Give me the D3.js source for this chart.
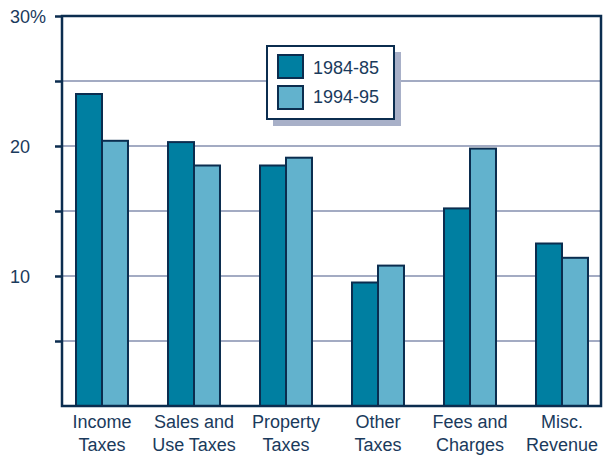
<!DOCTYPE html>
<html lang="en">
<head>
    <meta charset="UTF-8">
    <title>Revenue Shares</title>
    <script src="https://d3js.org/d3.v7.min.js"></script>
    <style>
        body { margin: 0; font-family: "Liberation Sans", Arial, sans-serif; background: #fff; }
        .grid line { stroke: #a3abc3; stroke-width: 2px; }
        .label { font-size: 18px; fill: #1a3a5c; }
        .bar { stroke: #0b2d4f; stroke-width: 2px; }
    </style>
</head>
<body>
    <svg width="605" height="458"></svg>
    <script>
        const categories = [
            ["Income", "Taxes"],
            ["Sales and", "Use Taxes"],
            ["Property", "Taxes"],
            ["Other", "Taxes"],
            ["Fees and", "Charges"],
            ["Misc.", "Revenue"]
        ];
        const series = ["1984-85", "1994-95"];
        const values8485 = [24.0, 20.3, 18.5, 9.5, 15.2, 12.5];
        const values9495 = [20.4, 18.5, 19.1, 10.8, 19.8, 11.4];
        const yTicks = [5, 10, 15, 20, 25, 30];
        const yLabels = { 10: "10", 20: "20", 30: "30%" };

        const colors = ["#007fa1", "#62b2cd"];
        const ink = "#0b2d4f";

        const mLeft = 62, mRight = 601, mTop = 16, mBottom = 406;
        const svg = d3.select("svg");

        const x0 = d3.scaleBand()
            .domain(d3.range(categories.length))
            .range([56, 608])
            .paddingInner(0.435)
            .paddingOuter(0.2175);
        const x1 = d3.scaleBand()
            .domain(series)
            .range([0, x0.bandwidth()]);
        const y = d3.scaleLinear().domain([0, 30]).range([mBottom, mTop]);

        // gridlines
        svg.append("g")
            .attr("class", "grid")
            .selectAll("line")
            .data(yTicks.filter(d => d < 30))
            .enter().append("line")
            .attr("x1", mLeft).attr("x2", mRight)
            .attr("y1", d => y(d)).attr("y2", d => y(d));

        // legend (drawn over gridlines)
        const lg = svg.append("g");
        lg.append("rect").attr("x", 273).attr("y", 52).attr("width", 128).attr("height", 74)
            .attr("fill", "#a8b0c8");
        lg.append("rect").attr("x", 267).attr("y", 46).attr("width", 127).attr("height", 73)
            .attr("fill", "#fff").attr("stroke", ink).attr("stroke-width", 2);
        series.forEach((s, i) => {
            lg.append("rect").attr("x", 278).attr("y", 55 + i * 31).attr("width", 25).attr("height", 23)
                .attr("fill", colors[i]).attr("stroke", ink).attr("stroke-width", 2);
            lg.append("text").attr("class", "label").attr("x", 313).attr("y", 74 + i * 29)
                .text(s);
        });

        // bars
        const data = [values8485, values9495];
        const groups = svg.append("g").selectAll("g")
            .data(categories)
            .enter().append("g")
            .attr("transform", (d, i) => `translate(${x0(i)},0)`);
        groups.selectAll("rect")
            .data((d, i) => series.map((s, j) => ({ s, v: data[j][i], c: colors[j] })))
            .enter().append("rect")
            .attr("class", "bar")
            .attr("x", d => x1(d.s))
            .attr("width", x1.bandwidth())
            .attr("y", d => y(d.v))
            .attr("height", d => y(0) - y(d.v))
            .attr("fill", d => d.c);

        // frame
        svg.append("path")
            .attr("d", `M${mLeft},${mTop}H${mRight}V${mBottom}H${mLeft}Z`)
            .attr("fill", "none").attr("stroke", ink).attr("stroke-width", 2.5);

        // y axis ticks and labels
        const yAxis = d3.axisLeft(y)
            .tickValues(yTicks)
            .tickSize(7)
            .tickFormat(d => yLabels[d] || "");
        const ya = svg.append("g").attr("transform", `translate(${mLeft},0)`).call(yAxis);
        ya.select(".domain").remove();
        ya.selectAll(".tick line").attr("stroke", ink).attr("stroke-width", 2.5);
        ya.selectAll(".tick text")
            .attr("class", "label")
            .attr("x", -52).attr("dy", "0.35em")
            .attr("text-anchor", "start");
        ya.attr("font-family", null).attr("font-size", null);

        // x labels
        const xl = svg.append("g").selectAll("text")
            .data(categories)
            .enter().append("text")
            .attr("class", "label")
            .attr("text-anchor", "middle")
            .attr("x", (d, i) => x0(i) + x0.bandwidth() / 2)
            .attr("y", 428);
        xl.append("tspan").text(d => d[0]);
        xl.append("tspan")
            .attr("x", (d, i) => x0(i) + x0.bandwidth() / 2)
            .attr("dy", 23)
            .text(d => d[1]);
    </script>
</body>
</html>
